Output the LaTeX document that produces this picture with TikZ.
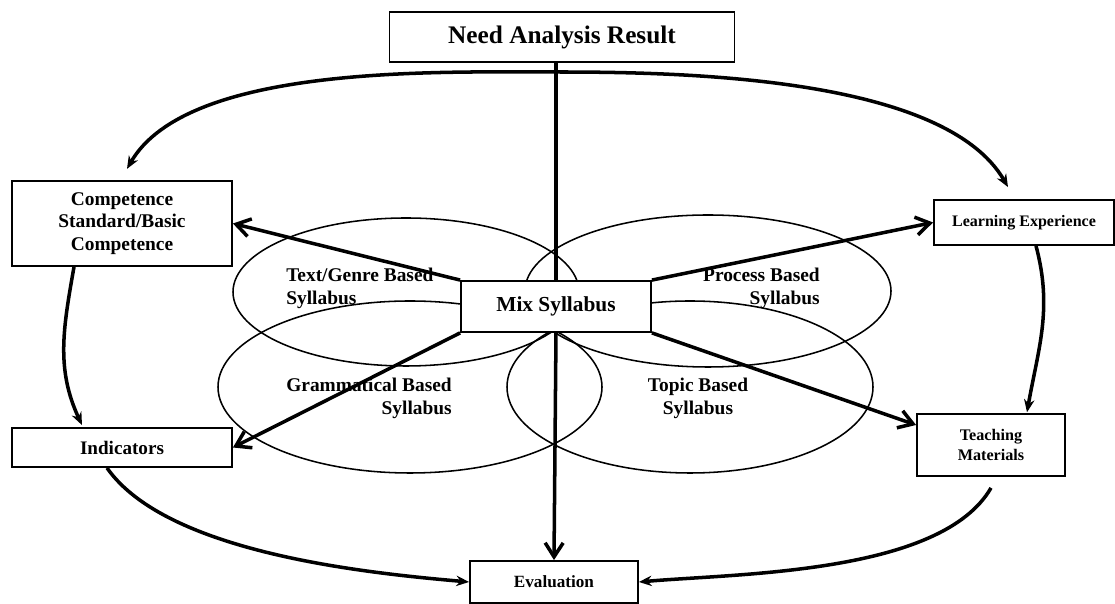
\documentclass[tikz,border=0pt]{standalone}
\usepackage{fontspec}
\setmainfont{Liberation Serif}
\usetikzlibrary{calc,arrows.meta}

\begin{document}
\begin{tikzpicture}[
    box/.style={draw, rectangle, line width=1.3pt, fill=white, align=center, inner sep=2pt},
    ring/.style={draw, line width=1.1pt},
    spoke/.style={line width=2.5pt, -{Straight Barb[length=0.35cm, width=0.45cm]}},
    loop/.style={line width=2.5pt, -{Stealth[length=0.32cm, width=0.26cm]}},
    lbl/.style={font=\fontsize{13.8}{16.3}\selectfont\bfseries, inner sep=0pt}
]
            \useasboundingbox (0,0) rectangle (27.875,15.1);

            % Syllabus ellipses
            \draw[ring] (10.15,7.8) ellipse [x radius=4.325, y radius=1.85];
            \draw[ring] (17.7,7.825) ellipse [x radius=4.575, y radius=1.9];
            \draw[ring] (10.25,5.425) ellipse [x radius=4.8, y radius=2.15];
            \draw[ring] (17.25,5.425) ellipse [x radius=4.575, y radius=2.15];

            % Ellipse labels
            \node[lbl, anchor=west, align=left] (genrelbl) at (7.15,7.9) {Text/Genre Based\\Syllabus};
            \node[lbl, anchor=east, align=right] (proclbl) at (20.5,7.9) {Process Based\\Syllabus};
            \node[lbl, anchor=east, align=right] (gramlbl) at (11.3,5.14) {Grammatical Based\\Syllabus};
            \node[lbl, align=center] (topiclbl) at (17.45,5.14) {Topic Based\\Syllabus};

            % Blocks
            \node[box, minimum width=8.625cm, minimum height=1.25cm, font=\fontsize{18}{21}\selectfont\bfseries] (need) at (14.05,14.175) {Need Analysis Result};
            \node[box, minimum width=4.75cm, minimum height=1.275cm, font=\fontsize{15.2}{18}\selectfont\bfseries] (mix) at (13.9,7.4375) {Mix Syllabus};
            \node[box, minimum width=5.5cm, minimum height=2.125cm, font=\fontsize{13.8}{16}\selectfont\bfseries] (comp) at (3.05,9.5125) {Competence\\Standard/Basic\\Competence};
            \node[box, minimum width=4.5cm, minimum height=1.125cm, font=\fontsize{11.4}{13.5}\selectfont\bfseries] (learn) at (25.6,9.5375) {Learning Experience};
            \node[box, minimum width=5.5cm, minimum height=0.975cm, font=\fontsize{13.6}{16}\selectfont\bfseries] (ind) at (3.05,3.9125) {Indicators};
            \node[box, minimum width=3.7cm, minimum height=1.55cm, font=\fontsize{11.5}{14}\selectfont\bfseries] (teach) at (24.775,3.975) {Teaching\\Materials};
            \node[box, minimum width=4.2cm, minimum height=1.05cm, font=\fontsize{12.2}{14.5}\selectfont\bfseries] (eval) at (13.85,0.55) {Evaluation};

            % Feed from need analysis
            \draw[line width=2.5pt] (need.south -| mix.north) -- (mix.north);
            \coordinate (apex) at (13.9,13.3);
            \draw[loop] (apex) to[out=180, in=60, looseness=0.7] ($(comp.north)+(0.125,0.28)$);
            \draw[loop] (apex) to[out=0, in=120, looseness=0.7] ($(learn.north)+(-0.4,0.3)$);

            % Spokes out of mix syllabus
            \draw[spoke] (mix.north west) -- (comp.east);
            \draw[spoke] (mix.north east) -- (learn.west);
            \draw[spoke] (mix.south west) -- (ind.east);
            \draw[spoke] (mix.south east) -- ($(teach.west)+(0,0.5)$);
            \draw[spoke] (mix.south) -- (eval.north);

            % Outer loop
            \draw[loop] ($(comp.south)+(-1.2,0)$) to[out=-100, in=115] ($(ind.north)+(-1,0.05)$);
            \draw[loop] ($(learn.south)+(0.3,0)$) to[out=-75, in=80] ($(teach.north)+(0.9,0.02)$);
            \draw[loop] ($(ind.south)+(-0.375,0)$) to[out=-55, in=175, looseness=0.7] (eval.west);
            \draw[loop] ($(teach.south)+(0,-0.275)$) to[out=-120, in=5, looseness=0.7] (eval.east);
\end{tikzpicture}
\end{document}
